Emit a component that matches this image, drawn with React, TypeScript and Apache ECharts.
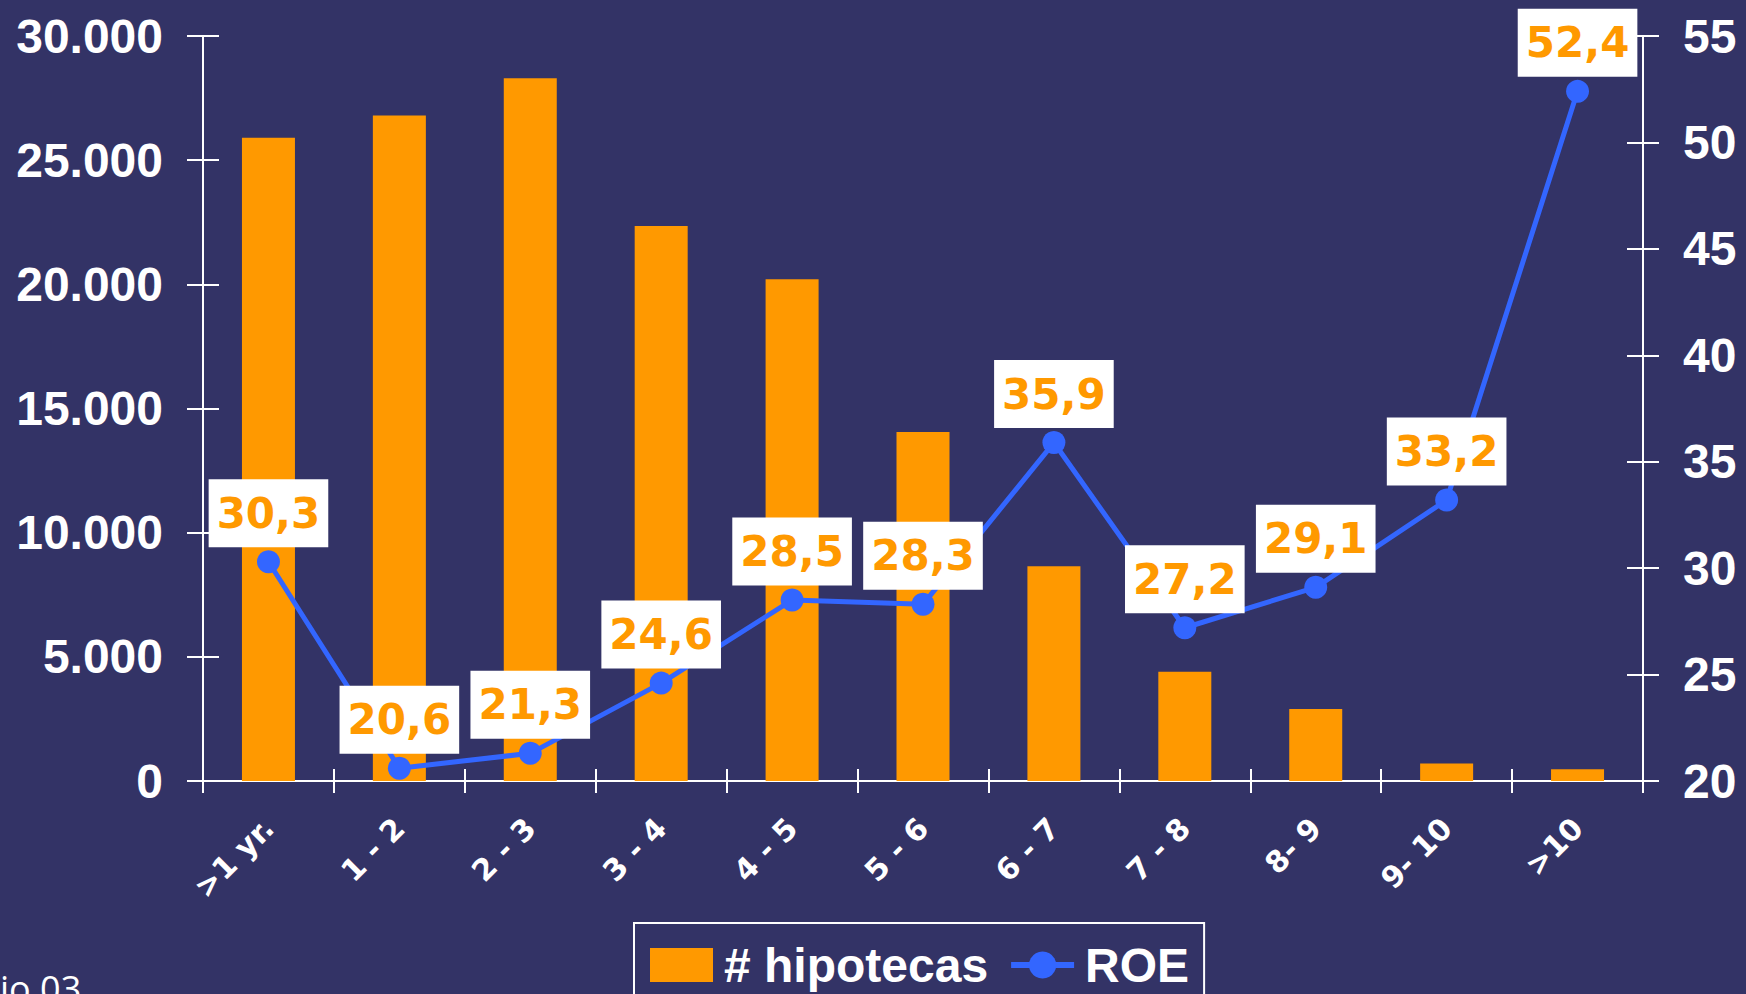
import React, { useEffect, useRef } from "react";
import * as echarts from "echarts";

const categories = [">1 yr.", "1 - 2", "2 - 3", "3 - 4", "4 - 5", "5 - 6", "6 - 7", "7 - 8", "8- 9", "9- 10", ">10"];
const hipotecas = [25900, 26800, 28300, 22350, 20200, 14050, 8650, 4400, 2900, 700, 470];
const roe = [30.3, 20.6, 21.3, 24.6, 28.5, 28.3, 35.9, 27.2, 29.1, 33.2, 52.4];
const leftTicks = { min: 0, max: 30000, interval: 5000 };
const rightTicks = { min: 20, max: 55, interval: 5 };
const footnote = "io 03";

const BG = "#333366";
const ORANGE = "#FF9900";
const BLUE = "#3366FF";
const WHITE = "#FFFFFF";

const fmtThousands = (v: number) => {
  const s = String(Math.round(v));
  return s.replace(/\B(?=(\d{3})+(?!\d))/g, ".");
};

export default function App() {
  const ref = useRef<HTMLDivElement>(null);
  useEffect(() => {
    if (!ref.current) return;
    const chart = echarts.init(ref.current, undefined, { renderer: "svg" });
    const yLabel = {
      color: WHITE,
      fontFamily: "Liberation Sans",
      fontWeight: "bold" as const,
      fontSize: 48,
    };
    chart.setOption({
      animation: false,
      backgroundColor: BG,
      grid: { left: 203, right: 103, top: 36, bottom: 213, containLabel: false },
      legend: {
        left: 634,
        top: 923,
        padding: [18, 15, 25, 16],
        itemWidth: 63,
        itemHeight: 34,
        itemGap: 20,
        borderColor: WHITE,
        borderWidth: 2,
        textStyle: {
          color: WHITE,
          fontFamily: "Liberation Sans",
          fontWeight: "bold",
          fontSize: 48,
          padding: [0, 0, 0, 6],
        },
        data: [
          { name: "# hipotecas", icon: "rect" },
          { name: "ROE", lineStyle: { width: 6, color: BLUE } },
        ],
      },
      xAxis: [
        {
          type: "category",
          data: categories,
          position: "bottom",
          boundaryGap: true,
          axisLine: { show: true, lineStyle: { color: WHITE, width: 2 } },
          axisTick: { show: true, inside: false, length: 12, lineStyle: { color: WHITE, width: 2 } },
          axisLabel: {
            rotate: 45,
            margin: 42,
            color: WHITE,
            fontFamily: "DejaVu Sans",
            fontWeight: "bold",
            fontSize: 30,
            interval: 0,
          },
          splitLine: { show: false },
        },
        {
          type: "category",
          data: categories,
          position: "bottom",
          offset: 0,
          boundaryGap: true,
          axisLine: { show: false },
          axisTick: { show: true, inside: true, length: 12, lineStyle: { color: WHITE, width: 2 } },
          axisLabel: { show: false },
          splitLine: { show: false },
        },
      ],
      yAxis: [
        {
          type: "value",
          position: "left",
          ...leftTicks,
          axisLine: { show: true, lineStyle: { color: WHITE, width: 2 } },
          axisTick: { show: true, inside: false, length: 16, lineStyle: { color: WHITE, width: 2 } },
          axisLabel: { ...yLabel, margin: 40, formatter: (v: number) => fmtThousands(v) },
          splitLine: { show: false },
        },
        {
          type: "value",
          position: "right",
          ...rightTicks,
          axisLine: { show: true, lineStyle: { color: WHITE, width: 2 } },
          axisTick: { show: true, inside: false, length: 16, lineStyle: { color: WHITE, width: 2 } },
          axisLabel: { ...yLabel, margin: 40 },
          splitLine: { show: false },
        },
        {
          type: "value",
          position: "left",
          offset: 0,
          ...leftTicks,
          axisLine: { show: false },
          axisTick: { show: true, inside: true, length: 16, lineStyle: { color: WHITE, width: 2 } },
          axisLabel: { show: false },
          splitLine: { show: false },
        },
        {
          type: "value",
          position: "right",
          offset: 0,
          ...rightTicks,
          axisLine: { show: false },
          axisTick: { show: true, inside: true, length: 16, lineStyle: { color: WHITE, width: 2 } },
          axisLabel: { show: false },
          splitLine: { show: false },
        },
      ],
      series: [
        {
          name: "# hipotecas",
          type: "bar",
          xAxisIndex: 0,
          yAxisIndex: 0,
          data: hipotecas,
          barWidth: 53,
          itemStyle: { color: ORANGE },
          z: 2,
        },
        {
          name: "ROE",
          type: "line",
          xAxisIndex: 0,
          yAxisIndex: 1,
          data: roe,
          symbol: "circle",
          symbolSize: 23,
          lineStyle: { color: BLUE, width: 5 },
          itemStyle: { color: BLUE },
          z: 3,
          label: {
            show: true,
            position: "top",
            distance: 3,
            backgroundColor: WHITE,
            padding: [12, 8, 12, 8],
            color: ORANGE,
            fontFamily: "DejaVu Sans",
            fontWeight: "bold",
            fontSize: 42,
            lineHeight: 44,
            formatter: (p: any) => String(p.value).replace(".", ","),
          },
        },
      ],
      graphic: [
        {
          type: "text",
          left: 0,
          top: 970,
          style: {
            text: footnote,
            fill: WHITE,
            fontFamily: "Open Sans",
            fontSize: 36,
          },
        },
      ],
    });
    return () => chart.dispose();
  }, []);
  return (
    <div
      ref={ref}
      style={{ position: "fixed", left: 0, top: 0, width: 1746, height: 994 }}
    />
  );
}
